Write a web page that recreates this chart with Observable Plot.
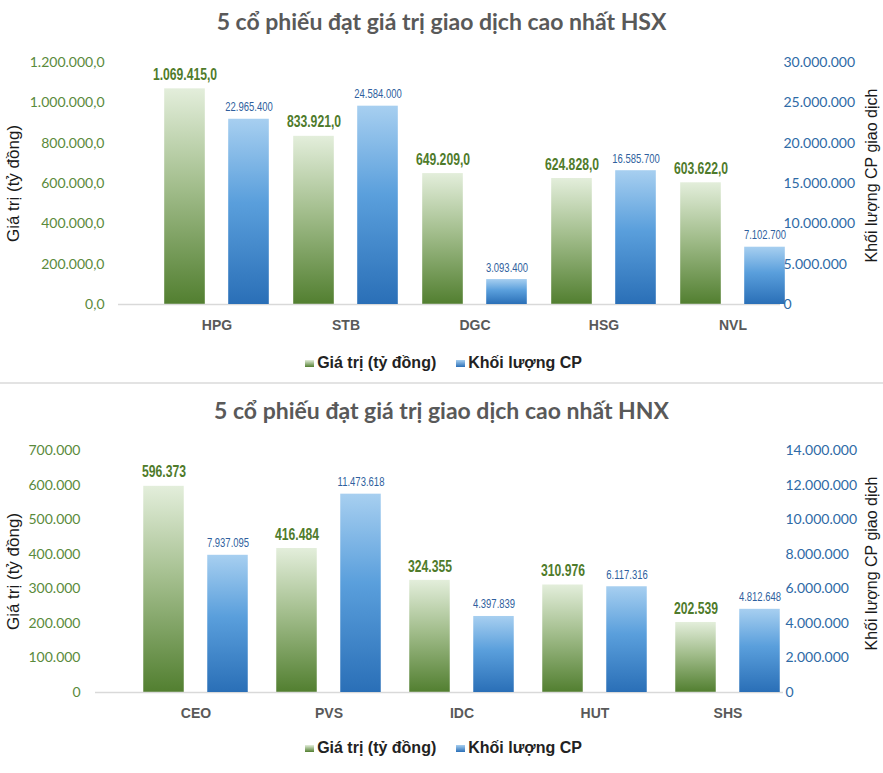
<!DOCTYPE html>
<html>
<head>
<meta charset="utf-8">
<script src="https://cdn.jsdelivr.net/npm/d3@7"></script>
<script src="https://cdn.jsdelivr.net/npm/@observablehq/plot@0.6"></script>
<style>
  html, body { margin: 0; padding: 0; background: #fff; }
  #root { position: relative; width: 883px; height: 773px; overflow: hidden; background: #fff; }
  .title { position: absolute; left: 0; width: 883px; text-align: center; font-family: Lato, "Open Sans", sans-serif; font-weight: 700; font-size: 23px; color: #595959; line-height: 1; }
  .legend { position: absolute; left: 2px; width: 883px; display: flex; justify-content: center; align-items: center; font-family: "Liberation Sans", Arial, sans-serif; font-weight: 700; font-size: 16px; color: #222; line-height: 1; }
  .legend .item { display: flex; align-items: center; margin: 0 10px; }
  .legend .sw { width: 9px; height: 7px; margin-right: 3px; }
  .sep { position: absolute; left: 0; width: 883px; height: 2px; background: #e3e3e3; }
  .layer { position: absolute; left: 0; }
</style>
</head>
<body>
<div id="root"></div>
<script>
// ---------- data ----------
const hsxCategories = ["HPG", "STB", "DGC", "HSG", "NVL"];
const hsxValues = [1069415.0, 833921.0, 649209.0, 624828.0, 603622.0];
const hsxVolumes = [22965400, 24584000, 3093400, 16585700, 7102700];
const hsxValueTicks = [0, 200000, 400000, 600000, 800000, 1000000, 1200000];
const hsxVolumeTicks = [0, 5000000, 10000000, 15000000, 20000000, 25000000, 30000000];

const hnxCategories = ["CEO", "PVS", "IDC", "HUT", "SHS"];
const hnxValues = [596373, 416484, 324355, 310976, 202539];
const hnxVolumes = [7937095, 11473618, 4397839, 6117316, 4812648];
const hnxValueTicks = [0, 100000, 200000, 300000, 400000, 500000, 600000, 700000];
const hnxVolumeTicks = [0, 2000000, 4000000, 6000000, 8000000, 10000000, 12000000, 14000000];

const titles = ["5 cổ phiếu đạt giá trị giao dịch cao nhất HSX", "5 cổ phiếu đạt giá trị giao dịch cao nhất HNX"];
const seriesNames = ["Giá trị (tỷ đồng)", "Khối lượng CP"];
const leftAxisTitle = "Giá trị (tỷ đồng)";
const rightAxisTitle = "Khối lượng CP giao dịch";

// ---------- formatting ----------
const vi = d3.formatLocale({decimal: ",", thousands: ".", grouping: [3], currency: ["", ""]});
const f0 = vi.format(",.0f");
const f1 = vi.format(",.1f");

const GREEN_TXT = "#4f7b2b";
const GREEN_TICK = "#5a8a3c";
const BLUE_TXT = "#2f5f9e";
const BLUE_TICK = "#2e6aa6";
const NARROW = "Arial Narrow, 'Liberation Sans', Arial, sans-serif"; // condensed below
const SANS = "'Liberation Sans', Arial, sans-serif";
const TICKFONT = "Lato, 'Open Sans', sans-serif";

const root = document.getElementById("root");
const NS = "http://www.w3.org/2000/svg";

function defsMark(gid, bid) {
  return () => {
    const defs = document.createElementNS(NS, "defs");
    defs.innerHTML =
      `<linearGradient id="${gid}" x1="0" y1="1" x2="0" y2="0">
         <stop offset="0" stop-color="#527f30"/>
         <stop offset="0.55" stop-color="#a3be8d"/>
         <stop offset="1" stop-color="#e3eedb"/>
       </linearGradient>
       <linearGradient id="${bid}" x1="0" y1="1" x2="0" y2="0">
         <stop offset="0" stop-color="#2a6fb7"/>
         <stop offset="0.55" stop-color="#5a9fdc"/>
         <stop offset="1" stop-color="#a7cff0"/>
       </linearGradient>`;
    return defs;
  };
}

// emulate a narrow face: squeeze glyphs horizontally around each label's anchor
function condense(svg, sx) {
  svg.querySelectorAll('g[font-family^="Arial Narrow"] text').forEach(t => {
    const tr = t.getAttribute("transform");
    if (tr) t.setAttribute("transform", tr + ` scale(${sx},1)`);
    else {
      const x = +(t.getAttribute("x") || 0);
      t.setAttribute("transform", `translate(${x},0) scale(${sx},1) translate(${-x},0)`);
    }
  });
}

function chart(cfg) {
  const rows = cfg.categories.map((c, i) => ({cat: c, value: cfg.values[i], volume: cfg.volumes[i]}));
  const H = 345;
  const common = {
    width: 883, height: H,
    marginTop: 62, marginBottom: 41, marginLeft: cfg.ml, marginRight: cfg.mr,
    style: {background: "transparent", overflow: "visible"},
    x: {domain: cfg.categories, range: cfg.xRange, padding: 0, axis: null}
  };
  const step = (cfg.xRange[1] - cfg.xRange[0]) / cfg.categories.length;
  const half = step / 2;
  const inner = 11.5, outer = 52.5;
  const gid = "g" + cfg.id, bid = "b" + cfg.id;

  const valuePlot = Plot.plot({
    ...common,
    y: {domain: [0, cfg.valueTicks[cfg.valueTicks.length - 1]], axis: null},
    marks: [
      defsMark(gid, bid),
      Plot.barY(rows, {x: "cat", y: "value", fill: `url(#${gid})`, insetLeft: half - outer, insetRight: half + inner}),
      Plot.ruleY([0], {stroke: "#d9d9d9", strokeWidth: 1.5}),
      Plot.axisY({ticks: cfg.valueTicks, tickFormat: cfg.valueFmt, tickSize: 0, tickPadding: cfg.leftPad, color: GREEN_TICK, fontSize: 14, fontFamily: TICKFONT, label: null}),
      Plot.axisX({tickSize: 0, tickPadding: 16, color: "#595959", fontSize: 14, fontWeight: 700, fontFamily: SANS, label: null}),
      Plot.text(rows, {x: "cat", y: "value", text: d => cfg.labelFmt(d.value), dx: -(inner + outer) / 2, dy: -14, fill: GREEN_TXT, fontWeight: 700, fontSize: 16, fontFamily: NARROW}),
      Plot.text([leftAxisTitle], {frameAnchor: "left", dx: 13 - cfg.ml, rotate: -90, textAnchor: "middle", lineAnchor: "middle", fill: "#1a1a1a", fontSize: 17, fontFamily: SANS})
    ]
  });

  const volumePlot = Plot.plot({
    ...common,
    y: {domain: [0, cfg.volumeTicks[cfg.volumeTicks.length - 1]], axis: null},
    marks: [
      defsMark(gid + "v", bid + "v"),
      Plot.barY(rows, {x: "cat", y: "volume", fill: `url(#${bid}v)`, insetLeft: half + inner, insetRight: half - outer}),
      Plot.axisY({anchor: "right", ticks: cfg.volumeTicks, tickFormat: f0, tickSize: 0, tickPadding: cfg.rightPad, color: BLUE_TICK, fontSize: 14, fontFamily: TICKFONT, label: null}),
      Plot.text(rows, {x: "cat", y: "volume", text: d => f0(d.volume), dx: (inner + outer) / 2, dy: -12, fill: BLUE_TXT, fontSize: 12.5, fontFamily: NARROW}),
      Plot.text([rightAxisTitle], {frameAnchor: "right", dx: 871 - (883 - cfg.mr), dy: -8, rotate: -90, textAnchor: "middle", lineAnchor: "middle", fill: "#1a1a1a", fontSize: 16, fontFamily: SANS})
    ]
  });

  for (const p of [valuePlot, volumePlot]) {
    condense(p, 0.76);
    p.classList.add("layer");
    p.style.top = cfg.top + "px";
    root.appendChild(p);
  }

  const t = document.createElement("div");
  t.className = "title";
  t.style.top = (cfg.top + cfg.titleY - 12) + "px";
  t.textContent = cfg.title;
  root.appendChild(t);

  const lg = document.createElement("div");
  lg.className = "legend";
  lg.style.top = (cfg.top + cfg.legendY - 8) + "px";
  lg.style.height = "16px";
  lg.innerHTML =
    `<div class="item"><div class="sw" style="background:linear-gradient(to top,#527f30,#e3eedb)"></div>${seriesNames[0]}</div>` +
    `<div class="item"><div class="sw" style="background:linear-gradient(to top,#2a6fb7,#a7cff0)"></div>${seriesNames[1]}</div>`;
  root.appendChild(lg);
}

chart({
  id: "hsx", top: 0, title: titles[0], titleY: 22, legendY: 363,
  categories: hsxCategories, values: hsxValues, volumes: hsxVolumes,
  valueTicks: hsxValueTicks, volumeTicks: hsxVolumeTicks,
  valueFmt: f1, labelFmt: f1,
  ml: 118, mr: 103, xRange: [150.5, 797.5], leftPad: 14, rightPad: 3
});

const sep = document.createElement("div");
sep.className = "sep";
sep.style.top = "382px";
root.appendChild(sep);

chart({
  id: "hnx", top: 388, title: titles[1], titleY: 23, legendY: 360,
  categories: hnxCategories, values: hnxValues, volumes: hnxVolumes,
  valueTicks: hnxValueTicks, volumeTicks: hnxVolumeTicks,
  valueFmt: f0, labelFmt: f0,
  ml: 95, mr: 100, xRange: [128, 795.5], leftPad: 15, rightPad: 2
});
</script>
</body>
</html>
